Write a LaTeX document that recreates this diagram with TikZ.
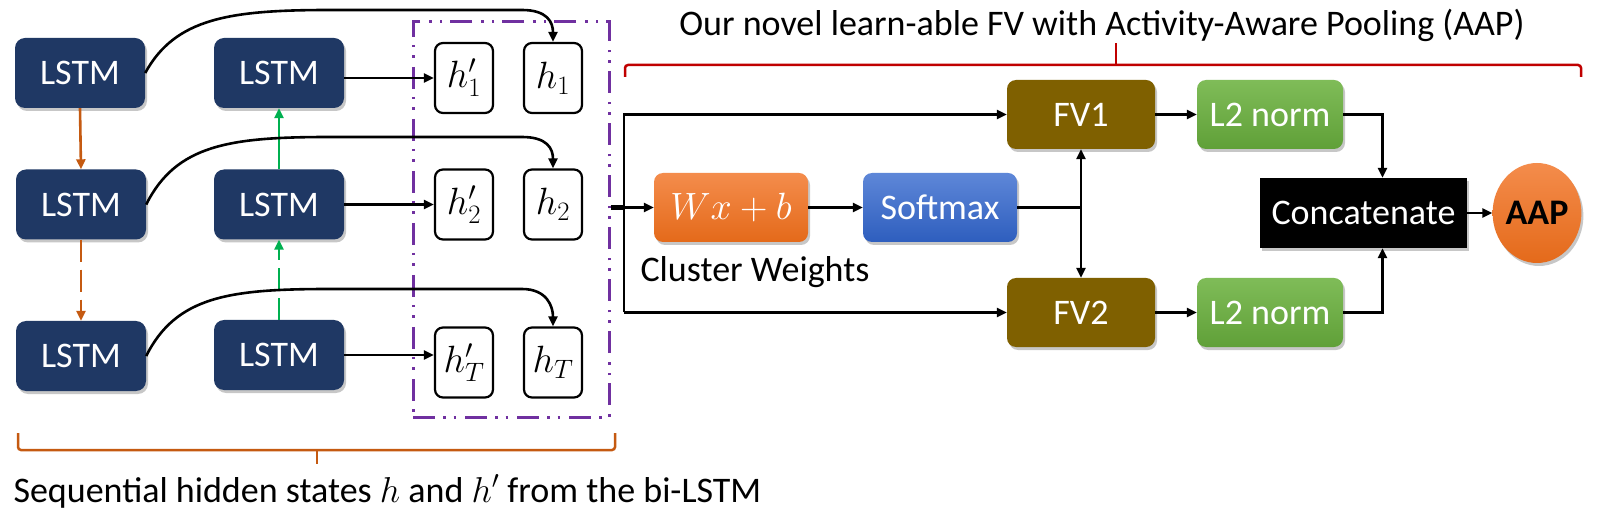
\RequirePackage{fix-cm}
\documentclass[tikz,border=0pt]{standalone}
\usepackage{fontspec}
\setmainfont{Carlito}
\usetikzlibrary{arrows.meta,shapes.geometric,shadows,calc}
\definecolor{navy}{RGB}{31,56,100}
\definecolor{orng}{RGB}{197,90,17}
\definecolor{grn}{RGB}{0,176,80}
\definecolor{purp}{RGB}{112,48,160}
\definecolor{redb}{RGB}{192,0,0}
\definecolor{fvcol}{RGB}{127,96,0}
\definecolor{orT}{RGB}{244,140,76}
\definecolor{orB}{RGB}{228,106,26}
\definecolor{blT}{RGB}{94,135,216}
\definecolor{blB}{RGB}{46,94,190}
\definecolor{gnT}{RGB}{127,188,88}
\definecolor{gnB}{RGB}{96,160,56}
\newcommand{\bigtxt}{\fontsize{36}{42}\selectfont}
\newcommand{\mathtxt}{\fontsize{38}{44}\selectfont}
\tikzset{
  myshadow/.style={drop shadow={shadow xshift=2pt,shadow yshift=-3pt,opacity=0.22,fill=black}},
  lstm/.style={rounded corners=10pt,fill=navy,text=white,minimum width=130pt,minimum height=70pt,inner sep=0pt,font=\bigtxt,myshadow},
  hnode/.style={draw=black,line width=2.2pt,rounded corners=8pt,fill=white,minimum width=58pt,minimum height=70pt,inner sep=0pt,font=\mathtxt},
  pbox/.style={rounded corners=9pt,minimum width=154pt,minimum height=69pt,inner sep=0pt,text=white,font=\bigtxt,myshadow},
  fvbox/.style={pbox,fill=fvcol,minimum width=148pt},
  l2box/.style={pbox,top color=gnT,bottom color=gnB,minimum width=146pt},
  conn/.style={line width=2.6pt,draw=black},
}
\begin{document}
\begin{tikzpicture}[x=1pt,y=-1pt,>={Triangle[length=10pt,width=9pt]},line join=miter]
\useasboundingbox (0,0) rectangle (1624,510);
\fill[white] (0,0) rectangle (1624,510);
% LSTM nodes
\node[lstm] (la1) at (80,73) {LSTM};
\node[lstm] (la2) at (81,204.5) {LSTM};
\node[lstm] (la3) at (81,356) {LSTM};
\node[lstm] (lb1) at (279,73) {LSTM};
\node[lstm] (lb2) at (279,204.5) {LSTM};
\node[lstm] (lb3) at (279,355) {LSTM};
% hidden state nodes
\node[hnode] (hp1) at (464,78) {$h'_1$};
\node[hnode] (h1) at (553,78) {$h_1$};
\node[hnode] (hp2) at (464,204.5) {$h'_2$};
\node[hnode] (h2) at (553,204.5) {$h_2$};
\node[hnode] (hpT) at (464,362.5) {$h'_T$};
\node[hnode] (hT) at (553,362.5) {$h_T$};
% purple group box
\node[draw=purp,line width=3pt,dash pattern=on 22pt off 8pt on 2.5pt off 8pt on 2.5pt off 9pt,minimum width=196pt,minimum height=395pt,inner sep=0pt] (hb) at (511,219.5) {};
% vertical LSTM arrows
\draw[->,line width=2.6pt,draw=orng] (la1.south) -- (la2.north);
\draw[->,line width=2.6pt,draw=orng,dash pattern=on 22pt off 8pt] (la2.south) -- (la3.north);
\draw[->,line width=2.6pt,draw=grn] (lb2.north) -- (lb1.south);
\draw[->,line width=2.6pt,draw=grn,dash pattern=on 22pt off 8pt] (lb3.north) -- (lb2.south);
% backward LSTM to h'
\draw[conn,->] (lb1.east |- hp1.west) -- (hp1.west);
\draw[conn,->] (lb2.east |- hp2.west) -- (hp2.west);
\draw[conn,->] (lb3.east) -- (lb3.east -| hpT.west);
% forward LSTM curves to h
\draw[conn,->] (la1.east) .. controls +(30,-55) and +(-100,0) .. (330,10) -- (522,10) .. controls +(25,0) and +(0,-20) .. (h1.north);
\draw[conn,->] (la2.east) .. controls +(30,-60) and +(-100,0) .. (330,137) -- (522,137) .. controls +(25,0) and +(0,-20) .. (h2.north);
\draw[conn,->] (la3.east) .. controls +(30,-60) and +(-100,0) .. (330,289) -- (522,289) .. controls +(25,0) and +(0,-20) .. (hT.north);
% right part
\node[pbox,top color=orT,bottom color=orB,font=\mathtxt] (wx) at (731,207.5) {$Wx+b$};
\node[pbox,top color=blT,bottom color=blB] (soft) at (940,207.5) {Softmax};
\node[fvbox] (fv1) at (1081,114.5) {FV1};
\node[fvbox] (fv2) at (1081,312.5) {FV2};
\node[l2box] (l2a) at (1270,114.5) {L2 norm};
\node[l2box] (l2b) at (1270,312.5) {L2 norm};
\node[fill=black,text=white,minimum width=207pt,minimum height=70pt,inner sep=0pt,font=\bigtxt,myshadow] (concat) at (1363.5,213) {Concatenate};
\node[ellipse,top color=orT,bottom color=orB,minimum width=88pt,minimum height=100pt,inner sep=0pt,font=\bigtxt\bfseries,myshadow] (aap) at (1537,213) {AAP};
\node[anchor=base west,font=\bigtxt] (cw) at (637,282) {Cluster Weights};
% connectors right part
\coordinate (j) at (624,207.5);
\coordinate (jt) at (624,114.5);
\coordinate (jb) at (624,312.5);
\draw[line width=4.5pt] (hb.east |- j) -- (j);
\draw[conn,->] (j) -- (wx.west);
\draw[conn,->] (jb) -- (jt) -- (fv1.west);
\draw[conn,->] (jb) -- (fv2.west);
\draw[conn,->] (wx.east) -- (soft.west);
\draw[conn] (soft.east) -- (soft.east -| fv1.south);
\draw[conn,<->] (fv1.south) -- (fv2.north);
\draw[conn,->] (fv1.east) -- (l2a.west);
\draw[conn,->] (fv2.east) -- (l2b.west);
\draw[conn,->] (l2a.east) -| ([xshift=19pt]concat.north);
\draw[conn,->] (l2b.east) -| ([xshift=19pt]concat.south);
\draw[conn,->] (concat.east) -- (aap.west);
% top bracket and title
\draw[redb,line width=2.5pt,rounded corners=3pt] (625,77) -- (625,65) -- (1581,65) -- (1581,77);
\draw[redb,line width=2.5pt] (1116,65) -- (1116,43);
\node[anchor=base,font=\bigtxt] (title) at (1102,36) {Our novel learn-able FV with Activity-Aware Pooling (AAP)};
% bottom bracket and caption
\draw[orng,line width=2.5pt,rounded corners=3pt] (18,433) -- (18,450) -- (615,450) -- (615,433);
\draw[orng,line width=2.5pt] (317,450) -- (317,464);
\node[anchor=base west,font=\bigtxt] (cap) at (10,502) {Sequential hidden states $h$ and $h'$ from the bi-LSTM};
\end{tikzpicture}
\end{document}
